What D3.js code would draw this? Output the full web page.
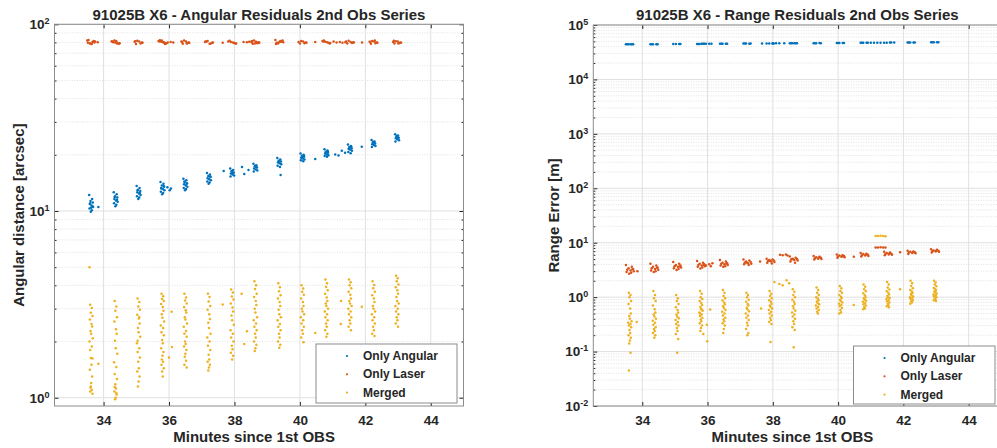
<!DOCTYPE html>
<html>
<head>
<meta charset="utf-8">
<script src="https://cdn.jsdelivr.net/npm/d3@7"></script>
<style>
  body { margin: 0; background: #fff; }
  svg text { font-family: "Liberation Sans", Arial, Helvetica, sans-serif; font-weight: bold; fill: #262626; }
</style>
</head>
<body>
<svg id="chart" width="997" height="448"></svg>
<script>
// Pass times (minutes since 1st OBS), shared by both panels
const passTimes = [33.62, 34.37, 35.07, 35.80, 36.50, 37.22, 37.93, 38.64, 39.37, 40.08, 40.81, 41.53, 42.25, 42.97];

// small time offsets of the single observations inside one pass
const narrowJitter = [-0.03, 0.02, -0.01, 0.04, -0.04, 0.01, 0.03, -0.02, 0.0, 0.05, -0.05, 0.02, -0.03, 0.04, -0.01, 0.01, -0.04, 0.03, 0.0, -0.02, 0.02, -0.03, 0.04, -0.01, 0.01];
const mediumJitter = [-0.06, 0.03, -0.02, 0.05, -0.04, 0.01, 0.06, -0.05, 0.02, -0.01, 0.04, -0.03, 0.0];
const wideJitter = [-0.12, 0.06, -0.04, 0.1, -0.08, 0.02, 0.12, -0.1, 0.04, -0.02, 0.08, -0.06, 0.0];

// ---- Angular residuals [arcsec] ----
const angAngular = [
  [12.2, 11.6, 11.3, 11.1, 10.9, 10.7, 10.5, 10.3, 10.1, 9.9, 10.6, 11.0, 10.4],
  [12.6, 12.3, 12.0, 11.8, 11.6, 11.4, 11.2, 11.0, 10.8, 10.6, 11.5, 11.9],
  [13.6, 13.3, 13.0, 12.8, 12.6, 12.4, 12.2, 12.0, 11.8, 11.6, 12.5, 12.9],
  [14.3, 14.0, 13.7, 13.5, 13.3, 13.1, 12.9, 12.7, 12.5, 12.3, 13.6, 13.2],
  [14.9, 14.6, 14.3, 14.1, 13.9, 13.7, 13.5, 13.3, 13.1, 12.9, 14.0, 14.4],
  [16.0, 15.7, 15.4, 15.2, 15.0, 14.8, 14.6, 14.4, 14.2, 14.0, 15.3],
  [16.9, 16.6, 16.3, 16.1, 15.9, 15.7, 15.5, 15.3, 16.0, 16.4],
  [17.9, 17.6, 17.3, 17.1, 16.9, 16.7, 16.5, 16.3, 17.2, 17.5],
  [19.2, 18.9, 18.6, 18.4, 18.2, 18.0, 17.8, 17.5, 17.2, 18.5, 15.6],
  [20.3, 20.0, 19.7, 19.5, 19.3, 19.1, 18.9, 18.7, 18.5, 19.4, 19.8],
  [21.4, 21.1, 20.8, 20.5, 20.3, 20.1, 19.9, 19.7, 19.5, 20.6, 20.9],
  [22.7, 22.3, 22.0, 21.7, 21.5, 21.3, 21.0, 20.7, 20.4, 21.8, 22.1],
  [24.0, 23.6, 23.3, 23.0, 22.8, 22.6, 22.3, 22.0, 23.2, 23.5],
  [25.8, 25.4, 25.0, 24.7, 24.5, 24.2, 23.9, 23.6, 24.8, 25.2]
];
const angAngularExtra = [[33.84, 10.5], [35.95, 13.4], [36.02, 12.9], [36.06, 13.2], [37.67, 16.4], [38.23, 17.2],
  [38.3, 15.8], [38.43, 16.6], [40.47, 19.0], [41.08, 20.1], [41.18, 19.8], [41.28, 21.0], [41.38, 20.5], [41.89, 22.1]];

const angLaser = [
  [81.8, 80.6, 79.0, 80.0, 82.4, 78.4, 81.0, 79.6, 80.4, 78.9, 81.4],
  [81.2, 79.4, 82.0, 78.6, 80.2, 81.4, 79.2, 80.6, 78.9, 80.0],
  [80.6, 79.0, 81.6, 80.0, 78.4, 80.8, 79.6, 81.2],
  [81.4, 79.6, 80.6, 78.8, 82.2, 80.2, 79.2, 80.8, 80.0, 81.8, 78.5],
  [80.8, 79.2, 81.8, 80.0, 78.6, 81.0, 79.6, 80.4, 79.0],
  [80.4, 79.0, 81.4, 79.6, 80.8, 78.6, 80.0, 81.0],
  [80.8, 79.4, 80.4, 78.8, 81.6, 80.0, 79.0],
  [81.0, 79.2, 82.0, 80.2, 78.6, 80.6, 79.6, 81.4, 80.0, 78.9],
  [82.4, 80.6, 79.0, 81.8, 79.6, 81.0, 80.2, 78.4, 81.4, 80.0],
  [80.4, 79.2, 81.4, 80.0, 78.8, 80.8, 79.6],
  [81.4, 79.6, 80.6, 79.0, 81.8, 80.2, 79.4, 80.8],
  [80.8, 79.4, 81.6, 80.2, 78.8, 80.4, 80.0],
  [80.6, 79.2, 81.4, 80.0, 78.6, 81.0, 79.6, 80.4, 81.8],
  [80.4, 79.4, 81.2, 80.0, 79.0, 80.8, 79.6, 81.6, 78.8]
];
const angLaserExtra = [[33.82, 80.2], [35.96, 79.8], [36.05, 80.5], [36.13, 80.0], [37.64, 79.6], [38.28, 80.4],
  [38.38, 80.1], [38.45, 80.6], [38.53, 79.9], [40.47, 80.3], [41.03, 80.8], [41.12, 80.0], [41.22, 80.5],
  [41.3, 79.7], [41.39, 80.2], [41.9, 79.9]];

const angMerged = [
  [3.15, 3.02, 2.85, 2.74, 2.62, 2.48, 2.41, 2.28, 2.2, 2.08, 2.0, 1.88, 1.8, 1.62, 1.63, 1.5, 1.41, 1.3, 1.2, 1.13, 1.1, 1.08, 1.05, 1.15],
  [3.3, 3.08, 2.92, 2.7, 2.56, 2.33, 2.2, 2.02, 1.84, 1.72, 1.55, 1.46, 1.34, 1.26, 1.18, 1.12, 1.08, 1.04, 1.0, 0.98, 1.06, 1.14],
  [3.4, 3.26, 3.08, 2.96, 2.78, 2.66, 2.5, 2.36, 2.24, 2.12, 1.96, 1.84, 1.76, 1.64, 1.56, 1.44, 1.38, 1.3, 1.22, 1.15, 2.7, 2.02],
  [3.6, 3.5, 3.38, 3.3, 3.18, 3.06, 2.92, 2.8, 2.68, 2.56, 2.44, 2.36, 2.24, 2.16, 2.04, 1.96, 1.84, 1.76, 1.68, 1.6, 1.56, 1.5, 1.44, 1.38, 1.3],
  [3.6, 3.44, 3.32, 3.2, 3.06, 2.94, 2.86, 2.7, 2.62, 2.5, 2.4, 2.28, 2.2, 2.12, 2.0, 1.94, 1.88, 1.8, 1.72, 1.66, 1.58, 1.5, 1.45],
  [3.6, 3.46, 3.28, 3.1, 2.96, 2.8, 2.64, 2.52, 2.36, 2.2, 2.1, 2.0, 1.9, 1.8, 1.7, 1.6, 1.56, 1.5, 1.45, 1.4],
  [3.8, 3.66, 3.48, 3.36, 3.2, 3.04, 2.9, 2.76, 2.6, 2.46, 2.3, 2.2, 2.1, 2.0, 1.9, 1.82, 1.74, 1.68, 1.6],
  [4.2, 4.0, 3.82, 3.6, 3.46, 3.3, 3.14, 3.0, 2.86, 2.7, 2.6, 2.5, 2.4, 2.3, 2.2, 2.1, 2.0, 1.92, 1.84, 1.78],
  [4.1, 3.9, 3.72, 3.54, 3.4, 3.26, 3.1, 2.96, 2.8, 2.7, 2.6, 2.48, 2.4, 2.3, 2.2, 2.1, 2.0, 1.92, 1.85],
  [4.0, 3.84, 3.7, 3.56, 3.4, 3.26, 3.1, 3.0, 2.9, 2.8, 2.7, 2.6, 2.5, 2.4, 2.3, 2.2, 2.1, 1.98],
  [4.3, 4.1, 3.92, 3.76, 3.6, 3.44, 3.3, 3.2, 3.1, 3.0, 2.9, 2.8, 2.7, 2.6, 2.5, 2.4, 2.3, 2.2, 2.12],
  [4.3, 4.16, 4.0, 3.86, 3.7, 3.56, 3.4, 3.3, 3.2, 3.1, 3.0, 2.9, 2.8, 2.7, 2.6, 2.5, 2.4, 2.3],
  [4.2, 4.02, 3.86, 3.7, 3.54, 3.4, 3.26, 3.1, 3.0, 2.9, 2.8, 2.7, 2.6, 2.5, 2.4, 2.3, 2.2, 2.14],
  [4.5, 4.36, 4.2, 4.04, 3.9, 3.76, 3.6, 3.46, 3.3, 3.2, 3.1, 3.0, 2.9, 2.8, 2.7, 2.6, 2.5, 2.4]
];
const angMergedExtra = [[33.57, 5.0], [33.84, 1.52], [36.08, 2.89], [36.09, 1.87], [36.0, 1.64], [37.64, 3.16],
  [38.22, 3.61], [38.3, 1.94], [38.38, 2.27], [40.47, 2.22], [41.25, 2.48], [41.26, 3.3], [41.89, 3.07]];

// ---- Range residuals [m] ----
const rngAngular = [
  [44200, 44300, 44100, 44250, 44150, 44200],
  [44400, 44500, 44350, 44450, 44400],
  [44700, 44650, 44750, 44700],
  [45000, 45100, 44950, 45050, 45000, 45100],
  [45200, 45300, 45150, 45250, 45200],
  [45500, 45450, 45600, 45500, 45550],
  [45800, 45900, 45750, 45850],
  [46100, 46200, 46050, 46150, 46100, 46200],
  [46400, 46500, 46350, 46450, 46400],
  [46700, 46800, 46650, 46750, 46700],
  [47000, 47100, 46950, 47050, 47000],
  [47400, 47500, 47350, 47450],
  [47800, 47900, 47750, 47850, 47800],
  [48200, 48300, 48150, 48250, 48200]
];
const rngAngularExtra = [[35.95, 45100], [36.05, 45150], [36.12, 45100], [37.67, 45900], [38.0, 46000], [38.1, 46050],
  [38.2, 46100], [38.35, 46200], [41.0, 47100], [41.1, 47150], [41.2, 47200], [41.3, 47250], [41.72, 47600]];

const rngLaser = [
  [3.9, 3.6, 3.4, 3.3, 3.2, 3.1, 3.0, 2.9, 2.8, 2.7, 3.25],
  [4.1, 3.8, 3.6, 3.5, 3.4, 3.3, 3.2, 3.1, 3.0, 2.9, 3.45],
  [4.4, 4.1, 3.9, 3.8, 3.7, 3.6, 3.5, 3.4, 3.3, 3.15, 3.65],
  [4.6, 4.3, 4.1, 4.0, 3.9, 3.8, 3.7, 3.6, 3.5, 3.35, 3.95],
  [4.8, 4.5, 4.3, 4.2, 4.1, 4.0, 3.9, 3.8, 3.7, 3.6, 4.15],
  [4.9, 4.7, 4.5, 4.4, 4.3, 4.2, 4.1, 4.0, 3.9, 4.35],
  [5.1, 4.9, 4.8, 4.7, 4.6, 4.5, 4.4, 4.3, 4.15, 4.65],
  [5.6, 5.3, 5.1, 5.0, 4.9, 4.8, 4.7, 4.5, 4.3, 4.95],
  [5.7, 5.5, 5.4, 5.3, 5.2, 5.1, 5.0, 4.9, 5.35],
  [6.1, 5.9, 5.8, 5.7, 5.6, 5.5, 5.4, 5.3, 5.65],
  [6.5, 6.3, 6.2, 6.0, 5.9, 5.8, 5.7, 5.6, 6.05],
  [6.8, 6.6, 6.5, 6.3, 6.2, 6.1, 6.0, 5.9, 6.35],
  [7.1, 6.9, 6.8, 6.7, 6.6, 6.5, 6.4, 6.2, 6.75],
  [7.6, 7.4, 7.2, 7.1, 7.0, 6.9, 6.8, 6.6, 7.15]
];
const rngLaserExtra = [[33.85, 3.0], [35.95, 3.8], [36.05, 4.0], [36.1, 3.7], [36.15, 4.2], [37.61, 4.5],
  [38.22, 6.0], [38.3, 5.9], [38.4, 6.1], [38.45, 5.8], [40.48, 5.5], [41.9, 6.7],
  [41.15, 8.2], [41.22, 8.2], [41.3, 8.25], [41.38, 8.2], [41.45, 8.15]];

const rngMerged = [
  [1.2, 1.1, 1.0, 0.85, 0.75, 0.62, 0.5, 0.45, 0.4, 0.36, 0.34, 0.32, 0.3, 0.28, 0.25, 0.22, 0.2, 0.18, 0.16, 0.14, 0.095, 0.045],
  [1.3, 1.1, 0.95, 0.85, 0.7, 0.6, 0.52, 0.48, 0.44, 0.4, 0.37, 0.34, 0.31, 0.28, 0.26, 0.24, 0.22, 0.2, 0.18],
  [1.1, 0.95, 0.85, 0.75, 0.65, 0.58, 0.52, 0.48, 0.44, 0.41, 0.38, 0.35, 0.32, 0.3, 0.27, 0.24, 0.21, 0.17, 0.095],
  [1.3, 1.15, 1.0, 0.92, 0.85, 0.78, 0.72, 0.66, 0.6, 0.56, 0.52, 0.48, 0.45, 0.42, 0.39, 0.36, 0.33, 0.3, 0.27, 0.24, 0.6, 0.5],
  [1.35, 1.2, 1.05, 0.95, 0.87, 0.8, 0.74, 0.68, 0.63, 0.58, 0.54, 0.5, 0.46, 0.42, 0.39, 0.36, 0.33, 0.3, 0.26, 0.22],
  [1.2, 1.1, 1.0, 0.9, 0.82, 0.75, 0.7, 0.64, 0.6, 0.55, 0.5, 0.46, 0.42, 0.38, 0.34, 0.3, 0.26, 0.22, 0.2],
  [1.3, 1.15, 1.05, 0.95, 0.88, 0.82, 0.76, 0.7, 0.66, 0.62, 0.58, 0.54, 0.5, 0.46, 0.42, 0.38, 0.35, 0.32, 0.15],
  [1.4, 1.25, 1.1, 1.0, 0.9, 0.82, 0.75, 0.68, 0.62, 0.56, 0.52, 0.48, 0.44, 0.4, 0.36, 0.32, 0.28, 0.25, 0.12],
  [1.5, 1.35, 1.2, 1.1, 1.0, 0.94, 0.88, 0.83, 0.78, 0.74, 0.7, 0.66, 0.62, 0.58, 0.54, 0.5],
  [1.6, 1.45, 1.3, 1.2, 1.1, 1.02, 0.96, 0.9, 0.85, 0.8, 0.76, 0.72, 0.68, 0.63, 0.58, 0.53, 0.5],
  [1.7, 1.55, 1.4, 1.28, 1.18, 1.08, 1.0, 0.95, 0.9, 0.86, 0.82, 0.78, 0.74, 0.7, 0.66, 0.62, 0.6],
  [1.9, 1.7, 1.5, 1.38, 1.28, 1.2, 1.12, 1.05, 1.0, 0.96, 0.92, 0.88, 0.84, 0.8, 0.76, 0.72, 0.68, 0.65],
  [2.0, 1.8, 1.6, 1.45, 1.35, 1.27, 1.2, 1.14, 1.08, 1.03, 1.0, 0.96, 0.92, 0.88, 0.84, 0.8, 0.76],
  [2.0, 1.85, 1.7, 1.58, 1.48, 1.4, 1.33, 1.27, 1.22, 1.17, 1.12, 1.08, 1.04, 1.0, 0.96, 0.92, 0.88, 0.85]
];
const rngMergedExtra = [[33.83, 0.35], [36.08, 0.59], [35.99, 0.155], [35.87, 0.21], [35.98, 0.31], [37.64, 0.62],
  [38.05, 1.9], [38.2, 1.75], [38.3, 1.65], [38.42, 2.05], [38.5, 1.8], [40.48, 0.72], [41.9, 1.4],
  [41.15, 13.3], [41.22, 13.3], [41.3, 13.4], [41.38, 13.3], [41.45, 13.2]];

const xTicks = [34, 36, 38, 40, 42, 44];
const legendNames = ["Only Angular", "Only Laser", "Merged"];
const colors = ["#0072BD", "#D95319", "#EDB120"];

const svg = d3.select("#chart");

// turn pass arrays + offsets into [x, y] points
function toPoints(passes, jitter, extra) {
  const pts = [];
  passes.forEach((vals, i) => {
    vals.forEach((v, j) => pts.push([passTimes[i] + jitter[j % jitter.length], v]));
  });
  return pts.concat(extra);
}

function supLabel(sel) {
  sel.text(null);
  sel.append("tspan").text("10");
  sel.append("tspan").attr("dy", -5).attr("font-size", 9).text(d => Math.round(Math.log10(d)));
}

function drawPanel(p) {
  const x = d3.scaleLinear().domain([32.5, 45]).range([p.left, p.right]);
  const y = d3.scaleLog().domain(p.yDomain).range([406, p.top]);
  const g = svg.append("g");
  const w = p.right - p.left, h = 406 - p.top;

  const clipId = "clip" + p.id;
  g.append("clipPath").attr("id", clipId)
    .append("rect").attr("x", p.left).attr("y", p.top).attr("width", w).attr("height", h);

  // minor + major grid
  const lo = Math.floor(Math.log10(p.yDomain[0])), hi = Math.ceil(Math.log10(p.yDomain[1]));
  const majors = [], minors = [];
  for (let e = lo; e <= hi; e++) {
    const b = Math.pow(10, e);
    if (b >= p.yDomain[0] * 0.999 && b <= p.yDomain[1] * 1.001) majors.push(b);
    for (let m = 2; m <= 9; m++) {
      const v = m * b;
      if (v > p.yDomain[0] && v < p.yDomain[1]) minors.push(v);
    }
  }
  g.append("g").selectAll("line").data(minors).join("line")
    .attr("x1", p.left).attr("x2", p.right).attr("y1", d => y(d)).attr("y2", d => y(d))
    .attr("stroke", "#d9d9d9").attr("stroke-width", 0.8).attr("stroke-dasharray", "1,1.5");
  g.append("g").selectAll("line").data(majors).join("line")
    .attr("x1", p.left).attr("x2", p.right).attr("y1", d => y(d)).attr("y2", d => y(d))
    .attr("stroke", "#e0e0e0").attr("stroke-width", 1);
  g.append("g").selectAll("line").data(xTicks).join("line")
    .attr("x1", d => x(d)).attr("x2", d => x(d)).attr("y1", p.top).attr("y2", 406)
    .attr("stroke", "#e0e0e0").attr("stroke-width", 1);

  // scatter series
  const plot = g.append("g").attr("clip-path", `url(#${clipId})`);
  p.series.forEach((s, k) => {
    plot.append("g").selectAll("circle").data(s).join("circle")
      .attr("cx", d => x(d[0])).attr("cy", d => y(d[1])).attr("r", 1.25)
      .attr("fill", colors[k]);
  });

  // axes (ticks inside)
  const xAxis = g.append("g").attr("transform", "translate(0,406)")
    .call(d3.axisBottom(x).tickValues(xTicks).tickSize(-4).tickPadding(9).tickFormat(d3.format("d")));
  g.append("g").attr("transform", `translate(0,${p.top})`)
    .call(d3.axisTop(x).tickValues(xTicks).tickSize(-4).tickFormat(""));
  const yAxis = g.append("g").attr("transform", `translate(${p.left},0)`)
    .call(d3.axisLeft(y).tickValues(majors).tickSize(-4).tickPadding(5));
  g.append("g").attr("transform", `translate(${p.left},0)`)
    .call(d3.axisLeft(y).tickValues(minors).tickSize(-2).tickFormat(""));
  g.append("g").attr("transform", `translate(${p.right},0)`)
    .call(d3.axisRight(y).tickValues(majors).tickSize(-4).tickFormat(""));
  g.append("g").attr("transform", `translate(${p.right},0)`)
    .call(d3.axisRight(y).tickValues(minors).tickSize(-2).tickFormat(""));
  g.selectAll(".domain").remove();
  g.selectAll(".tick line").attr("stroke", "#262626");
  xAxis.selectAll("text").attr("font-size", 13.5).attr("fill", "#262626");
  yAxis.selectAll("text").attr("font-size", 13.5).attr("fill", "#262626").call(supLabel);
  g.selectAll(".tick text").attr("font-family", null);

  g.append("rect").attr("x", p.left).attr("y", p.top).attr("width", w).attr("height", h)
    .attr("fill", "none").attr("stroke", "#8c8c8c").attr("stroke-width", 1);

  // labels
  g.append("text").attr("x", (p.left + p.right) / 2).attr("y", 20)
    .attr("text-anchor", "middle").attr("font-size", 15).text(p.title);
  g.append("text").attr("x", x(38.6)).attr("y", 442)
    .attr("text-anchor", "middle").attr("font-size", 15).text("Minutes since 1st OBS");
  g.append("text").attr("transform", `translate(${p.ylabX},${(p.top + 406) / 2}) rotate(-90)`)
    .attr("text-anchor", "middle").attr("dominant-baseline", "central").attr("font-size", 15).text(p.ylabel);

  // legend
  const L = p.legend;
  const lg = g.append("g");
  lg.append("rect").attr("x", L.x).attr("y", L.y).attr("width", L.w).attr("height", L.h)
    .attr("fill", "#fff").attr("stroke", "#8c8c8c").attr("stroke-width", 1);
  legendNames.forEach((name, k) => {
    const yy = L.y + 12 + k * 18.3;
    lg.append("circle").attr("cx", L.x + 31).attr("cy", yy).attr("r", 1.1).attr("fill", colors[k]);
    lg.append("text").attr("x", L.x + 47).attr("y", yy).attr("dominant-baseline", "central")
      .attr("font-size", 12).text(name);
  });
}

drawPanel({
  id: "A", left: 54.5, right: 463.5, top: 24.3, yDomain: [0.903, 100],
  title: "91025B X6 - Angular Residuals 2nd Obs Series",
  ylabel: "Angular distance [arcsec]", ylabX: 18,
  legend: { x: 316, y: 344, w: 141, h: 59 },
  series: [
    toPoints(angAngular, mediumJitter, angAngularExtra),
    toPoints(angLaser, wideJitter, angLaserExtra),
    toPoints(angMerged, narrowJitter, angMergedExtra)
  ]
});

drawPanel({
  id: "B", left: 593.3, right: 1001.3, top: 25, yDomain: [0.01, 100000],
  title: "91025B X6 - Range Residuals 2nd Obs Series",
  ylabel: "Range Error [m]", ylabX: 553,
  legend: { x: 853.5, y: 346, w: 141.5, h: 58 },
  series: [
    toPoints(rngAngular, wideJitter, rngAngularExtra),
    toPoints(rngLaser, wideJitter, rngLaserExtra),
    toPoints(rngMerged, narrowJitter, rngMergedExtra)
  ]
});
</script>
</body>
</html>
